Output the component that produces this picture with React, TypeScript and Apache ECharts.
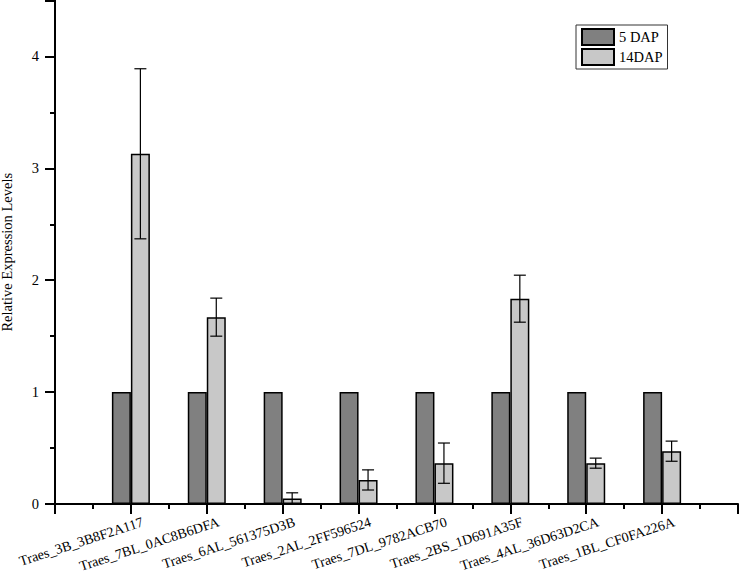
import React, { useEffect, useRef } from "react";
import * as echarts from "echarts";

const genes = [
  "Traes_3B_3B8F2A117",
  "Traes_7BL_0AC8B6DFA",
  "Traes_6AL_561375D3B",
  "Traes_2AL_2FF596524",
  "Traes_7DL_9782ACB70",
  "Traes_2BS_1D691A35F",
  "Traes_4AL_36D63D2CA",
  "Traes_1BL_CF0FA226A",
];
const categories = ["", ...genes, ""];
const dap5 = [1, 1, 1, 1, 1, 1, 1, 1];
const dap14 = [3.13, 1.67, 0.05, 0.215, 0.365, 1.835, 0.365, 0.472];
const dap14Err = [0.76, 0.17, 0.05, 0.09, 0.18, 0.21, 0.045, 0.09];
const yTicks = [0, 1, 2, 3, 4];

const FONT = "'Liberation Serif', 'Times New Roman', serif";
const BAR_W = 19;

export default function App() {
  const ref = useRef<HTMLDivElement>(null);
  useEffect(() => {
    if (!ref.current) return;
    const chart = echarts.init(ref.current, undefined, { renderer: "svg" });
    const errData = dap14.map((v, i) => [i + 1, v - dap14Err[i], v + dap14Err[i]]);
    chart.setOption({
      animation: false,
      backgroundColor: "#ffffff",
      textStyle: { fontFamily: FONT, color: "#000" },
      grid: { left: 55, right: 2, top: 0.5, bottom: 70, outerBoundsMode: "none", containLabel: false },
      legend: {
        orient: "vertical",
        left: 576,
        top: 25,
        itemWidth: 32,
        itemHeight: 16,
        itemGap: 2,
        padding: [3, 5, 3, 5],
        borderColor: "#333",
        borderWidth: 1,
        data: ["5 DAP", "14DAP"],
        textStyle: { fontFamily: FONT, fontSize: 14.5, color: "#000" },
        icon: "rect",
      },
      xAxis: [
        {
          type: "category",
          data: categories,
          boundaryGap: false,
          axisLine: { show: true, lineStyle: { color: "#000", width: 2 } },
          axisTick: { show: true, interval: 0, length: 10, lineStyle: { color: "#000", width: 2 } },
          axisLabel: {
            interval: 0,
            rotate: 18,
            margin: 21.5,
            padding: [0, -12.6, 0, 0],
            hideOverlap: false,
            fontFamily: FONT,
            fontSize: 14,
            color: "#000",
          },
          splitLine: { show: false },
        },
        {
          type: "value",
          min: 0,
          max: categories.length - 1,
          interval: 1,
          position: "bottom",
          axisLine: { show: false },
          axisTick: { show: false },
          axisLabel: { show: false },
          splitLine: { show: false },
          minorTick: { show: true, splitNumber: 2, length: 5, lineStyle: { color: "#000", width: 2 } },
          minorSplitLine: { show: false },
        },
      ],
      yAxis: [
        {
          type: "value",
          min: 0,
          max: 4.5,
          interval: 1,
          name: "Relative Expression Levels",
          nameLocation: "middle",
          nameGap: 41,
          nameTextStyle: { fontFamily: FONT, fontSize: 14.5, color: "#000" },
          axisLine: { show: true, lineStyle: { color: "#000", width: 2 } },
          axisTick: { show: true, length: 10, lineStyle: { color: "#000", width: 2 } },
          axisLabel: {
            margin: 16,
            fontFamily: FONT,
            fontSize: 14.5,
            color: "#000",
            formatter: (v: number) => (yTicks.includes(v) ? String(v) : ""),
          },
          splitLine: { show: false },
        },
        {
          type: "value",
          min: 0,
          max: 4.5,
          interval: 0.5,
          position: "left",
          axisLine: { show: false },
          axisTick: { show: true, length: 5, lineStyle: { color: "#000", width: 2 } },
          axisLabel: { show: false },
          splitLine: { show: false },
        },
      ],
      series: [
        {
          name: "5 DAP",
          type: "bar",
          xAxisIndex: 0,
          yAxisIndex: 0,
          barWidth: BAR_W,
          barGap: "0%",
          data: [null, ...dap5, null],
          itemStyle: { color: "#808080", borderColor: "#000", borderWidth: 1.5 },
        },
        {
          name: "14DAP",
          type: "bar",
          xAxisIndex: 0,
          yAxisIndex: 0,
          barWidth: BAR_W,
          barGap: "0%",
          data: [null, ...dap14, null],
          itemStyle: { color: "#c8c8c8", borderColor: "#000", borderWidth: 1.5 },
        },
        {
          name: "err",
          type: "custom",
          xAxisIndex: 0,
          yAxisIndex: 0,
          data: errData,
          z: 10,
          renderItem: (params: any, api: any) => {
            const idx = api.value(0);
            const lo = api.coord([idx, api.value(1)]);
            const hi = api.coord([idx, api.value(2)]);
            const x = lo[0] + BAR_W / 2;
            const cap = 6;
            const style = { stroke: "#000", lineWidth: 1.2, fill: "none" };
            return {
              type: "group",
              children: [
                { type: "line", shape: { x1: x, y1: lo[1], x2: x, y2: hi[1] }, style },
                { type: "line", shape: { x1: x - cap, y1: hi[1], x2: x + cap, y2: hi[1] }, style },
                { type: "line", shape: { x1: x - cap, y1: lo[1], x2: x + cap, y2: lo[1] }, style },
              ],
            };
          },
        },
      ],
    });
    return () => chart.dispose();
  }, []);
  return <div ref={ref} style={{ width: 740, height: 574, position: "absolute", left: 0, top: 0 }} />;
}
